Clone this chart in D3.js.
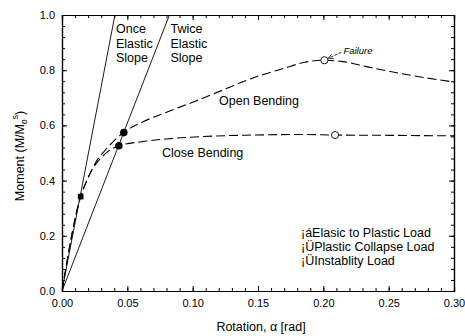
<!DOCTYPE html>
<html><head><meta charset="utf-8">
<script src="https://cdn.jsdelivr.net/npm/d3@7"></script>
<style>
body{margin:0;background:#fff;}
text{font-family:"Liberation Sans",Arial,sans-serif;fill:#000;}
</style></head>
<body><svg id="c" width="465" height="336"></svg>
<script>
// ---- data ----
const xTicks = [0.00, 0.05, 0.10, 0.15, 0.20, 0.25, 0.30];
const yTicks = [0.0, 0.2, 0.4, 0.6, 0.8, 1.0];
const onceElastic = [[0, 0], [0.0405, 1.0]];
const twiceElastic = [[0, 0], [0.0822, 1.0]];
const openBending = [[0,0],[0.0143,0.342],[0.019,0.40],[0.023,0.44],[0.027,0.475],[0.033,0.51],[0.040,0.545],[0.047,0.574],[0.062,0.613],[0.080,0.648],[0.100,0.684],[0.122,0.726],[0.145,0.770],[0.170,0.807],[0.186,0.829],[0.200,0.836],[0.215,0.831],[0.233,0.813],[0.258,0.789],[0.300,0.757]];
const closeBending = [[0,0],[0.0143,0.342],[0.019,0.40],[0.023,0.44],[0.028,0.472],[0.035,0.505],[0.0435,0.526],[0.061,0.541],[0.080,0.551],[0.105,0.559],[0.145,0.565],[0.186,0.567],[0.209,0.565],[0.250,0.564],[0.300,0.562]];
const elasticToPlastic = [[0.0143, 0.342]];
const plasticCollapse = [[0.0473, 0.574], [0.0435, 0.526]];
const instability = [[0.2008, 0.836], [0.209, 0.565]];
const legendLabels = ["¡áElasic to Plastic Load", "¡ÜPlastic Collapse Load", "¡ÜInstablity Load"];

// ---- layout ----
const svg = d3.select("#c");
const L = 62, R = 454, T = 15, B = 291;
const x = d3.scaleLinear().domain([0, 0.30]).range([L, R]);
const y = d3.scaleLinear().domain([0, 1.0]).range([B, T]);

// clip
svg.append("clipPath").attr("id","clip").append("rect").attr("x",L).attr("y",T).attr("width",R-L).attr("height",B-T);

// axes
const minorX = d3.range(0, 0.3001, 0.01);
const minorY = d3.range(0, 1.0001, 0.04);
function axisG(gen, tx, ty){ return svg.append("g").attr("transform",`translate(${tx},${ty})`).call(gen); }
const fmtX = d3.format(".2f"), fmtY = d3.format(".1f");

// bottom
let g = axisG(d3.axisBottom(x).tickValues(minorX).tickSize(-3).tickFormat(""), 0, B);
g = axisG(d3.axisBottom(x).tickValues(xTicks).tickSize(-5).tickPadding(8).tickFormat(fmtX), 0, B);
g.selectAll("text").attr("font-size", 11);
// top
axisG(d3.axisTop(x).tickValues(minorX).tickSize(-3).tickFormat(""), 0, T);
axisG(d3.axisTop(x).tickValues(xTicks).tickSize(-5).tickFormat(""), 0, T);
// left
axisG(d3.axisLeft(y).tickValues(minorY).tickSize(-3).tickFormat(""), L, 0);
g = axisG(d3.axisLeft(y).tickValues(yTicks).tickSize(-5).tickPadding(7).tickFormat(fmtY), L, 0);
g.selectAll("text").attr("font-size", 11);
// right
axisG(d3.axisRight(y).tickValues(minorY).tickSize(-3).tickFormat(""), R, 0);
axisG(d3.axisRight(y).tickValues(yTicks).tickSize(-5).tickFormat(""), R, 0);
svg.selectAll(".domain").attr("stroke","#000").attr("stroke-width",1.2);
svg.selectAll(".tick line").attr("stroke","#000");
svg.selectAll("g").attr("font-family", null);

// lines
const line = d3.line().x(d=>x(d[0])).y(d=>y(d[1]));
const curve = d3.line().x(d=>x(d[0])).y(d=>y(d[1])).curve(d3.curveMonotoneX);
const plot = svg.append("g").attr("clip-path","url(#clip)");
plot.append("path").datum(onceElastic).attr("d",line).attr("fill","none").attr("stroke","#000").attr("stroke-width",0.9);
plot.append("path").datum(twiceElastic).attr("d",line).attr("fill","none").attr("stroke","#000").attr("stroke-width",0.9);
plot.append("path").datum(openBending).attr("d",curve).attr("fill","none").attr("stroke","#000").attr("stroke-width",1.1).attr("stroke-dasharray","9,4");
plot.append("path").datum(closeBending).attr("d",curve).attr("fill","none").attr("stroke","#000").attr("stroke-width",1.1).attr("stroke-dasharray","9,4");

// markers
svg.selectAll(".sq").data(elasticToPlastic).join("rect")
  .attr("x",d=>x(d[0])-2.8).attr("y",d=>y(d[1])-2.8).attr("width",5.6).attr("height",5.6).attr("fill","#000");
svg.selectAll(".fc").data(plasticCollapse).join("circle")
  .attr("cx",d=>x(d[0])).attr("cy",d=>y(d[1])).attr("r",3.8).attr("fill","#000");
svg.selectAll(".oc").data(instability).join("circle")
  .attr("cx",d=>x(d[0])).attr("cy",d=>y(d[1])).attr("r",3.6).attr("fill","#fff").attr("stroke","#000").attr("stroke-width",0.9);

// failure annotation
const f = instability[0];
svg.append("defs").append("marker").attr("id","ah").attr("viewBox","0 0 10 10").attr("refX",10).attr("refY",5)
  .attr("markerWidth",6).attr("markerHeight",6).attr("orient","auto")
  .append("path").attr("d","M0,0 L10,5 L0,10").attr("fill","none").attr("stroke","#000").attr("stroke-width",1.5);
svg.append("line").attr("x1",x(f[0])+17).attr("y1",y(f[1])-8).attr("x2",x(f[0])+4).attr("y2",y(f[1])-2)
  .attr("stroke","#000").attr("stroke-width",0.8).attr("stroke-dasharray","3,1.5").attr("marker-end","url(#ah)");
svg.append("text").attr("x",x(f[0])+19).attr("y",y(f[1])-6).attr("font-size",9.5).attr("font-style","italic").text("Failure");

// labels
function multi(xp, yp, lines){
  const t = svg.append("text").attr("x",xp).attr("y",yp).attr("font-size",12.5);
  lines.forEach((s,i)=>t.append("tspan").attr("x",xp).attr("dy",i?14.5:0).text(s));
}
multi(116, 33, ["Once","Elastic","Slope"]);
multi(170.5, 33, ["Twice","Elastic","Slope"]);
svg.append("text").attr("x",219).attr("y",105).attr("font-size",12.5).text("Open Bending");
svg.append("text").attr("x",162).attr("y",157).attr("font-size",12.5).text("Close Bending");
legendLabels.forEach((s,i)=>svg.append("text").attr("x",301).attr("y",237+i*14).attr("font-size",12.5).text(s));

// axis titles
svg.append("text").attr("x",(L+R)/2+3).attr("y",331).attr("text-anchor","middle").attr("font-size",12.5)
  .text("Rotation, α [rad]");
const yl = svg.append("text").attr("transform","translate(24,156) rotate(-90)").attr("text-anchor","middle").attr("font-size",12.5);
yl.append("tspan").text("Moment (M/M");
yl.append("tspan").attr("font-size",8.5).attr("dy",3).text("o");
yl.append("tspan").attr("font-size",8.5).attr("dy",-9).text("s");
yl.append("tspan").attr("dy",6).text(")");
</script></body></html>
